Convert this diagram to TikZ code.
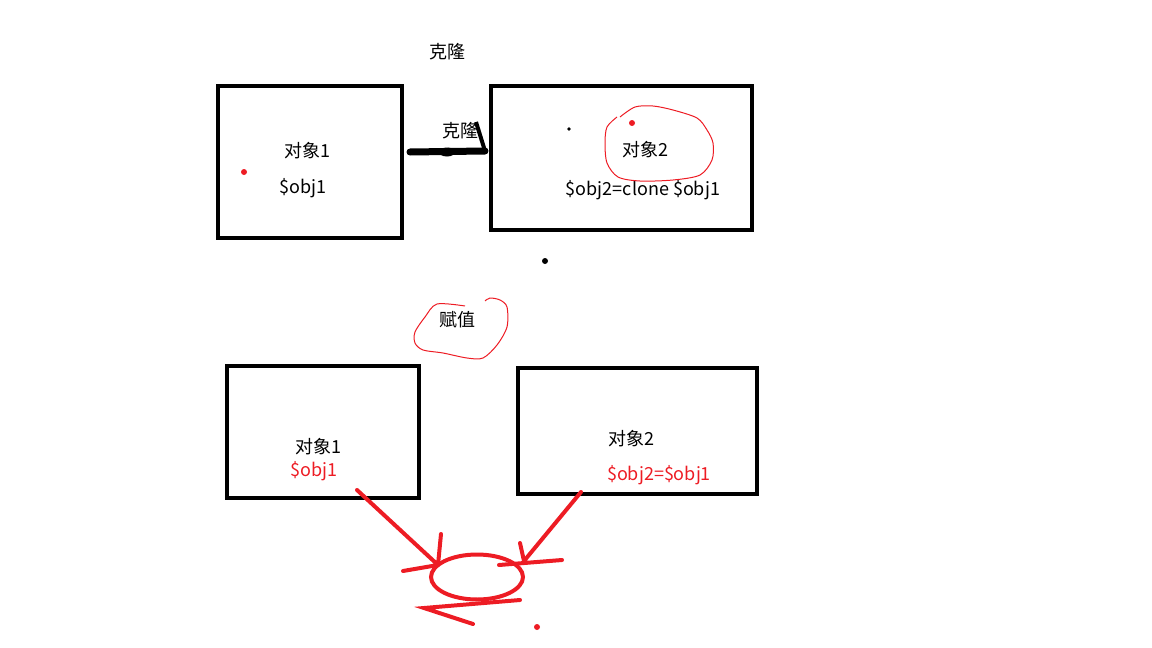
\documentclass[tikz,border=0pt]{standalone}
\usepackage{fontspec}
\setmainfont{Noto Sans CJK SC}
\usetikzlibrary{shapes.geometric}
\definecolor{paintred}{RGB}{237,28,36}

\begin{document}
\begin{tikzpicture}[x=1pt, y=-1pt]
        \tikzstyle{every node}=[font=\fontsize{18}{20}\selectfont, inner sep=0pt]
        \tikzstyle{box}=[draw, line width=4.5pt, rectangle]
        \tikzstyle{pen}=[paintred, line width=4pt, line cap=round]
        \tikzstyle{scribble}=[paintred, line width=1pt]
        \useasboundingbox (0,0) rectangle (1152,648);
        % top row: clone
        \node [box, minimum width=184, minimum height=152] (a) at (310,162) {};
        \node [box, minimum width=261, minimum height=144] (b) at (621.5,158) {};
        \node (clonetop) at (447,52) {克隆};
        \node (t1) at (307,151) {对象1};
        \node (v1) at (303,188) {\$obj1};
        \node (t2) at (645,150) {对象2};
        \node (v2) at (643,190) {\$obj2=clone \$obj1};
        \node (clonelbl) at (460,131) {克隆};
        \coordinate (s) at (410,152);
        \coordinate (e) at (485,151);
        \draw [line width=7pt, line cap=round] (s) -- (e);
        \fill (447,152) ellipse (8 and 4.5);
        \draw [line width=4pt] (476,122) -- (e);
        \fill [paintred] (244,172) circle (3);
        \fill [paintred] (632,123) circle (3);
        \fill (569,129) circle (1.8);
        \fill (545,261) circle (3);
        \draw [scribble] plot [smooth] coordinates {(620,117) (635,107) (653,106) (673,110)
          (697,118) (707,130) (713,143) (712,160) (700,175) (673,180) (640,181) (618,177)
          (607,163) (605,143) (607,127) (617,117)};
        % bottom row: assignment
        \node (assign) at (457,320) {赋值};
        \draw [scribble] plot [smooth] coordinates {(465,306) (437,304) (425,317) (415,332)
          (415,343) (423,350) (443,353) (467,358) (483,358) (497,345) (507,327) (507,307)
          (500,300) (490,298) (485,301)};
        \node [box, minimum width=192, minimum height=132] (c) at (323,432) {};
        \node [box, minimum width=239, minimum height=126] (d) at (637.5,431) {};
        \node (t3) at (318,447) {对象1};
        \node [paintred] (v3) at (314,471) {\$obj1};
        \node (t4) at (631,439) {对象2};
        \node [paintred] (v4) at (659,475) {\$obj2=\$obj1};
        \node [draw=paintred, line width=4pt, ellipse, minimum width=92, minimum height=45] (o) at (477,577) {};
        \coordinate (p1) at (357,490);
        \coordinate (q1) at (438,565);
        \coordinate (p2) at (581,492);
        \coordinate (q2) at (524,561);
        \draw [pen] (p1) -- (q1) (441,534) -- (q1) (403,571) -- (q1);
        \draw [pen] (p2) -- (q2) (520,543) -- (q2) (499,565) -- (562,560);
        \draw [pen] (520,600) -- (424,608) -- (473,624);
        \fill [paintred] (537,627) circle (3);
      \end{tikzpicture}
\end{document}
